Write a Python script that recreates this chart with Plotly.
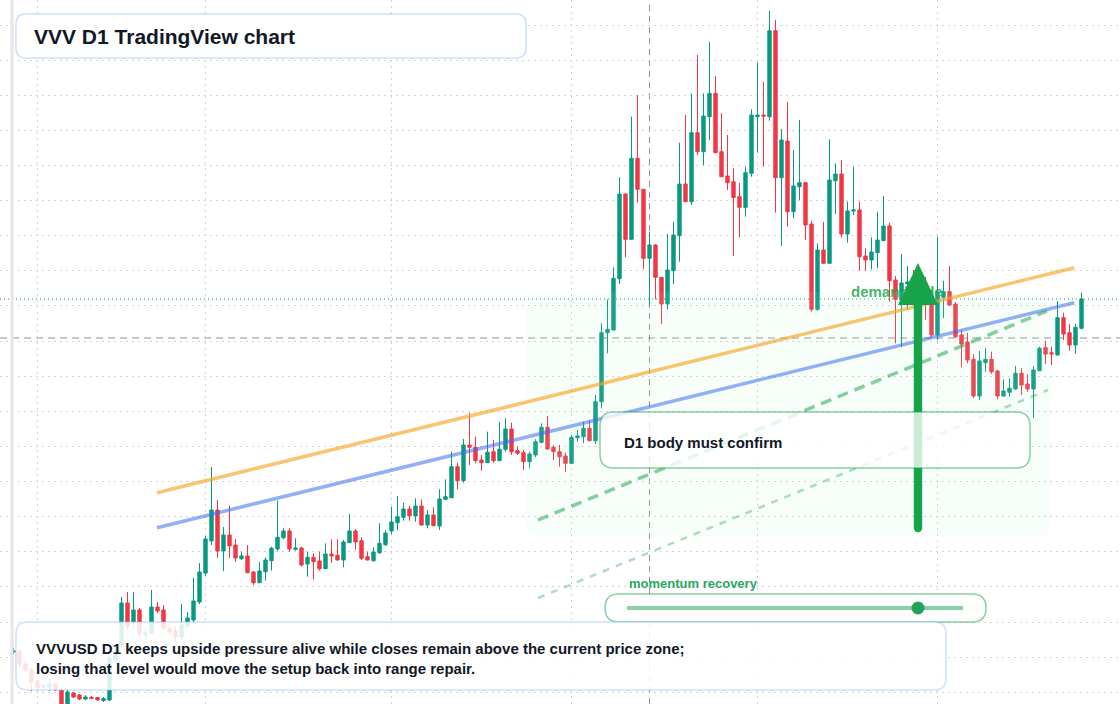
import plotly.graph_objects as go
import pandas as pd

# ---------------- data (daily candles, VVV/USD) ----------------
dates = pd.date_range("2025-01-28", "2025-07-25", freq="D")

opens = [
    1.52, 1.53, 1.40, 1.34, 1.23, 1.17, 1.17, 1.20, 1.14, 0.96,
    1.11, 1.09, 1.05, 1.065, 1.065, 1.035, 1.04, 1.44, 1.59, 2.01,
    1.82, 1.94, 1.693, 1.71, 1.97, 1.94, 1.76, 1.73, 1.67, 1.78,
    1.84, 2.02, 2.31, 2.63, 2.94, 2.53, 2.69, 2.59, 2.453, 2.48,
    2.32, 2.213, 2.323, 2.433, 2.55, 2.663, 2.73, 2.547, 2.56, 2.40,
    2.467, 2.43, 2.353, 2.50, 2.487, 2.44, 2.613, 2.73, 2.633, 2.473,
    2.433, 2.513, 2.593, 2.73, 2.813, 2.867, 2.95, 2.88, 2.98, 2.79,
    2.89, 2.78, 3.047, 3.063, 3.373, 3.233, 3.59, 3.567, 3.44, 3.413,
    3.523, 3.433, 3.547, 3.75, 3.533, 3.513, 3.423, 3.49, 3.617, 3.767,
    3.567, 3.523, 3.48, 3.407, 3.663, 3.673, 3.757, 3.633, 4.023, 4.713,
    4.74, 5.253, 6.10, 5.647, 6.457, 6.147, 5.457, 5.59, 5.267, 5.00,
    5.333, 5.683, 6.20, 6.023, 6.713, 6.523, 6.873, 7.107, 6.523, 6.28,
    6.223, 6.073, 5.967, 6.307, 6.873, 6.89, 6.873, 7.733, 6.263, 6.63,
    5.923, 6.173, 6.213, 5.80, 4.947, 5.54, 5.407, 6.233, 6.30, 5.70,
    5.93, 5.94, 5.48, 5.44, 5.513, 5.633, 5.78, 5.24, 5.04, 5.20,
    5.21, 5.04, 5.21, 4.99, 4.69, 5.067, 5.123, 5.00, 4.69, 4.62,
    4.447, 4.08, 4.413, 4.447, 4.33, 4.08, 4.117, 4.15, 4.307, 4.20,
    4.15, 4.333, 4.563, 4.513, 4.49, 4.863, 4.713, 4.59, 4.757,
]
highs = [
    1.56, 1.55, 1.42, 1.36, 1.24, 1.20, 1.25, 1.21, 1.16, 1.14,
    1.12, 1.10, 1.09, 1.08, 1.07, 1.07, 1.48, 1.58, 2.07, 2.12,
    2.12, 1.96, 1.76, 2.14, 2.02, 1.99, 1.82, 1.78, 2.00, 1.92,
    2.26, 2.41, 2.68, 3.37, 3.04, 2.77, 2.98, 2.65, 2.523, 2.59,
    2.33, 2.423, 2.467, 2.573, 3.033, 2.757, 2.757, 2.657, 2.573, 2.523,
    2.507, 2.523, 2.607, 2.647, 2.647, 2.64, 2.90, 2.75, 2.667, 2.523,
    2.567, 2.807, 2.74, 2.973, 3.08, 3.013, 2.98, 3.057, 3.047, 2.94,
    2.967, 3.147, 3.247, 3.523, 3.413, 3.65, 3.913, 3.673, 3.49, 3.723,
    3.64, 3.823, 3.857, 3.813, 3.573, 3.54, 3.523, 3.647, 3.807, 3.88,
    3.59, 3.59, 3.513, 3.69, 3.74, 3.823, 3.833, 4.09, 4.807, 5.047,
    5.367, 6.267, 6.107, 6.873, 7.09, 6.15, 5.723, 5.60, 5.27, 5.70,
    5.823, 6.613, 6.89, 7.107, 7.49, 7.107, 7.623, 7.28, 6.907, 6.69,
    6.357, 6.21, 6.373, 6.947, 7.413, 7.223, 7.933, 7.84, 6.75, 7.023,
    6.54, 6.84, 6.223, 5.833, 5.607, 5.823, 6.647, 6.407, 6.44, 6.023,
    6.373, 6.023, 5.557, 5.667, 5.923, 6.08, 5.813, 5.28, 5.50, 5.38,
    5.34, 5.24, 5.27, 5.11, 5.673, 5.23, 5.38, 5.02, 4.74, 4.71,
    4.497, 4.53, 4.557, 4.523, 4.34, 4.247, 4.257, 4.38, 4.357, 4.30,
    4.383, 4.573, 4.633, 4.573, 5.03, 4.913, 4.80, 4.80, 5.113,
]
lows = [
    1.50, 1.37, 1.32, 1.13, 1.14, 1.14, 1.13, 1.13, 0.92, 0.92,
    1.06, 1.04, 1.04, 1.05, 1.035, 1.02, 1.03, 1.42, 1.56, 1.74,
    1.76, 1.66, 1.64, 1.70, 1.91, 1.74, 1.70, 1.61, 1.64, 1.76,
    1.82, 2.00, 2.28, 2.59, 2.46, 2.33, 2.46, 2.42, 2.44, 2.31,
    2.19, 2.21, 2.233, 2.333, 2.533, 2.647, 2.523, 2.533, 2.373, 2.273,
    2.247, 2.333, 2.35, 2.413, 2.435, 2.367, 2.61, 2.54, 2.44, 2.435,
    2.423, 2.50, 2.58, 2.70, 2.74, 2.833, 2.833, 2.823, 2.785, 2.757,
    2.78, 2.74, 3.04, 3.057, 3.147, 3.213, 3.39, 3.407, 3.333, 3.41,
    3.413, 3.43, 3.523, 3.49, 3.49, 3.34, 3.357, 3.467, 3.607, 3.54,
    3.44, 3.373, 3.323, 3.40, 3.623, 3.607, 3.63, 3.60, 3.957, 4.507,
    4.733, 5.20, 5.467, 5.645, 6.013, 5.35, 4.98, 5.047, 4.80, 4.947,
    5.20, 5.423, 6.023, 5.99, 6.49, 6.39, 6.64, 6.51, 6.27, 6.14,
    5.48, 5.667, 5.873, 6.273, 6.513, 6.373, 6.833, 5.913, 5.58, 5.773,
    5.857, 6.04, 5.64, 4.923, 4.933, 5.40, 5.405, 5.90, 5.667, 5.613,
    5.89, 5.333, 5.333, 5.347, 5.357, 5.633, 5.023, 4.607, 4.57, 4.94,
    5.01, 4.99, 4.84, 4.66, 4.64, 4.857, 4.98, 4.66, 4.367, 4.407,
    4.057, 4.04, 4.323, 4.30, 4.047, 4.073, 4.073, 4.145, 4.09, 4.123,
    3.857, 4.33, 4.40, 4.39, 4.485, 4.64, 4.533, 4.50, 4.747,
]
closes = [
    1.53, 1.40, 1.34, 1.22, 1.16, 1.18, 1.20, 1.14, 0.98, 1.12,
    1.07, 1.05, 1.07, 1.055, 1.04, 1.055, 1.46, 1.53, 2.01, 1.78,
    1.94, 1.70, 1.713, 1.97, 1.93, 1.76, 1.72, 1.67, 1.79, 1.86,
    2.03, 2.32, 2.65, 2.94, 2.53, 2.69, 2.58, 2.46, 2.48, 2.313,
    2.213, 2.33, 2.44, 2.557, 2.667, 2.73, 2.55, 2.56, 2.39, 2.467,
    2.423, 2.353, 2.50, 2.48, 2.44, 2.62, 2.73, 2.62, 2.457, 2.44,
    2.52, 2.607, 2.71, 2.82, 2.873, 2.95, 2.883, 2.98, 2.79, 2.89,
    2.783, 3.05, 3.073, 3.373, 3.233, 3.59, 3.567, 3.433, 3.413, 3.517,
    3.433, 3.547, 3.75, 3.523, 3.507, 3.423, 3.50, 3.623, 3.767, 3.55,
    3.523, 3.473, 3.407, 3.667, 3.68, 3.757, 3.633, 4.023, 4.713, 4.747,
    5.257, 6.10, 5.647, 6.457, 6.147, 5.457, 5.59, 5.267, 5.00, 5.34,
    5.69, 6.20, 6.023, 6.713, 6.523, 6.88, 7.107, 6.513, 6.273, 6.213,
    6.065, 5.967, 6.313, 6.89, 6.89, 6.88, 7.733, 6.263, 6.64, 5.923,
    6.18, 6.213, 5.79, 4.947, 5.54, 5.407, 6.24, 6.30, 5.70, 5.93,
    5.94, 5.473, 5.44, 5.52, 5.64, 5.78, 5.233, 5.047, 5.21, 5.22,
    5.04, 5.19, 5.04, 4.69, 5.123, 5.123, 4.99, 4.673, 4.60, 4.44,
    4.08, 4.43, 4.447, 4.323, 4.08, 4.13, 4.157, 4.307, 4.19, 4.15,
    4.34, 4.557, 4.50, 4.50, 4.863, 4.70, 4.59, 4.767, 5.05,
]

support_level = 4.66
event_date = "2025-05-14"

title_text = "VVV D1 TradingView chart"
note_lines = [
    "VVVUSD D1 keeps upside pressure alive while closes remain above the current price zone;",
    "losing that level would move the setup back into range repair.",
]
confirm_text = "D1 body must confirm"
zone_text = "demand side"
momentum_text = "momentum recovery"

# ---------------- layout helpers (pixel -> paper) ----------------
W, H = 1120, 704
FONT = "Liberation Sans, Arial, sans-serif"
GREEN = "#16a34a"


def px(x):
    return x / W


def py(y):
    return 1 - y / H


def rrect(x0, y0, x1, y1, r):
    p = lambda x, y: f"{px(x):.5f},{py(y):.5f}"
    return (
        f"M {p(x0 + r, y0)} L {p(x1 - r, y0)} Q {p(x1, y0)} {p(x1, y0 + r)} "
        f"L {p(x1, y1 - r)} Q {p(x1, y1)} {p(x1 - r, y1)} "
        f"L {p(x0 + r, y1)} Q {p(x0, y1)} {p(x0, y1 - r)} "
        f"L {p(x0, y0 + r)} Q {p(x0, y0)} {p(x0 + r, y0)} Z"
    )


def pline(x0, y0, x1, y1, color, width, dash="solid", layer="above"):
    return dict(type="line", xref="paper", yref="paper", x0=px(x0), y0=py(y0),
                x1=px(x1), y1=py(y1), line=dict(color=color, width=width, dash=dash),
                layer=layer)


fig = go.Figure()

fig.add_trace(go.Candlestick(
    x=dates, open=opens, high=highs, low=lows, close=closes,
    increasing=dict(line=dict(color="#089981", width=1), fillcolor="#089981"),
    decreasing=dict(line=dict(color="#f23645", width=1), fillcolor="#f23645"),
    whiskerwidth=0, showlegend=False, hoverinfo="skip",
))

# label that sits underneath the arrow
label_x = pd.Timestamp("2025-02-01") + pd.Timedelta(days=(851 - 37.5) / 6)
fig.add_trace(go.Scatter(
    x=[label_x], y=[8.04 - 293 / 100], mode="text", text=[f"<b>{zone_text}</b>"],
    textposition="middle right",
    textfont=dict(family=FONT, size=15, color="rgba(22,163,74,0.85)"),
    hoverinfo="skip", showlegend=False,
))

shapes = []
# reference lines (under candles)
shapes.append(dict(type="line", xref="x", yref="paper", x0=event_date, x1=event_date,
                   y0=0, y1=1, layer="between",
                   line=dict(color="rgba(110,110,110,0.75)", width=1, dash="6px,5px")))
shapes.append(dict(type="line", xref="paper", yref="y", x0=0, x1=1,
                   y0=closes[-1], y1=closes[-1], layer="between",
                   line=dict(color="#089981", width=1, dash="1px,3px")))
shapes.append(dict(type="line", xref="paper", yref="y", x0=0, x1=1,
                   y0=support_level, y1=support_level, layer="between",
                   line=dict(color="rgba(120,120,120,0.8)", width=1, dash="7px,5px")))

# demand zone
shapes.append(dict(type="path", xref="paper", yref="paper", path=rrect(526, 292, 1051, 537, 16),
                   fillcolor="rgba(187,247,208,0.10)", line=dict(width=0), layer="above"))
# trend lines
shapes.append(pline(157, 492.7, 1074.3, 267.7, "rgba(245,166,35,0.65)", 3.5))
shapes.append(pline(157, 527.7, 1074.3, 302.7, "rgba(59,110,240,0.55)", 3.5))
shapes.append(pline(538, 520, 1047, 311, "rgba(34,170,80,0.55)", 3.5, "11px,7px"))
shapes.append(pline(538, 598, 1048, 390, "rgba(34,170,80,0.38)", 2.5, "7px,7px"))
# arrow
shapes.append(pline(918, 300, 918, 528, GREEN, 8.4))
shapes.append(dict(type="circle", xref="paper", yref="paper", x0=px(913.8), x1=px(922.2),
                   y0=py(523.8), y1=py(532.2), fillcolor=GREEN, line=dict(width=0), layer="above"))
shapes.append(dict(type="path", xref="paper", yref="paper",
                   path=f"M {px(918)},{py(263)} L {px(938)},{py(305)} L {px(898)},{py(305)} Z",
                   fillcolor=GREEN, line=dict(width=0), layer="above"))
# confirm box
shapes.append(dict(type="path", xref="paper", yref="paper", path=rrect(600, 412, 1030, 468, 14),
                   fillcolor="rgba(255,255,255,0.78)", line=dict(color="rgba(22,163,74,0.5)", width=1.5),
                   layer="above"))
# momentum pill
shapes.append(dict(type="path", xref="paper", yref="paper", path=rrect(605, 594, 986, 622, 14),
                   fillcolor="white", line=dict(color="rgba(22,163,74,0.5)", width=1.5), layer="above"))
shapes.append(pline(627, 608, 963, 608, "rgba(22,163,74,0.5)", 4))
shapes.append(dict(type="circle", xref="paper", yref="paper", x0=px(911.5), x1=px(924.5),
                   y0=py(601.5), y1=py(614.5), fillcolor="#22a35a", line=dict(width=0), layer="above"))
# note box & title box
shapes.append(dict(type="path", xref="paper", yref="paper", path=rrect(16, 622, 946, 690, 12),
                   fillcolor="rgba(255,255,255,0.86)", line=dict(color="rgba(147,187,253,0.45)", width=1.5),
                   layer="above"))
shapes.append(dict(type="path", xref="paper", yref="paper", path=rrect(16, 14, 526, 58, 10),
                   fillcolor="white", line=dict(color="rgba(147,187,253,0.45)", width=1.5),
                   layer="above"))
# left edge strip
shapes.append(dict(type="rect", xref="paper", yref="paper", x0=px(10.5), x1=px(13.6), y0=0, y1=1,
                   fillcolor="#e6e6e6", line=dict(width=0), layer="above"))

annotations = [
    dict(xref="paper", yref="paper", x=px(32), y=py(36), xanchor="left", yanchor="middle",
         text=title_text, showarrow=False,
         font=dict(family=FONT, size=21, color="#111827", weight="bold")),
    dict(xref="paper", yref="paper", x=px(34), y=py(658), xanchor="left", yanchor="middle",
         text="<br>".join(note_lines), showarrow=False, align="left",
         font=dict(family=FONT, size=15, color="#111827", weight="bold")),
    dict(xref="paper", yref="paper", x=px(622), y=py(442), xanchor="left", yanchor="middle",
         text=confirm_text, showarrow=False,
         font=dict(family=FONT, size=15, color="#111827", weight="bold")),
    dict(xref="paper", yref="paper", x=px(627), y=py(583), xanchor="left", yanchor="middle",
         text=momentum_text, showarrow=False,
         font=dict(family=FONT, size=13, color="#28a85e", weight="bold")),
]

fig.update_layout(
    width=W, height=H, margin=dict(l=0, r=0, t=0, b=0),
    paper_bgcolor="white", plot_bgcolor="white",
    showlegend=False, shapes=shapes, annotations=annotations, boxgap=0.2,
    xaxis=dict(
        type="date", range=["2025-01-25 18:00", "2025-07-31 10:00"],
        rangeslider=dict(visible=False), showticklabels=False, ticks="",
        tick0="2025-01-01", dtick="M1", showgrid=True, gridcolor="#d4d4d4",
        griddash="2px,4px", gridwidth=1, zeroline=False, showline=False,
    ),
    yaxis=dict(
        range=[1.0, 8.04], showticklabels=False, ticks="", tick0=1.117, dtick=0.3512,
        showgrid=True, gridcolor="#d4d4d4", griddash="2px,4px", gridwidth=1,
        zeroline=False, showline=False,
    ),
)

fig.write_html("out.html")
